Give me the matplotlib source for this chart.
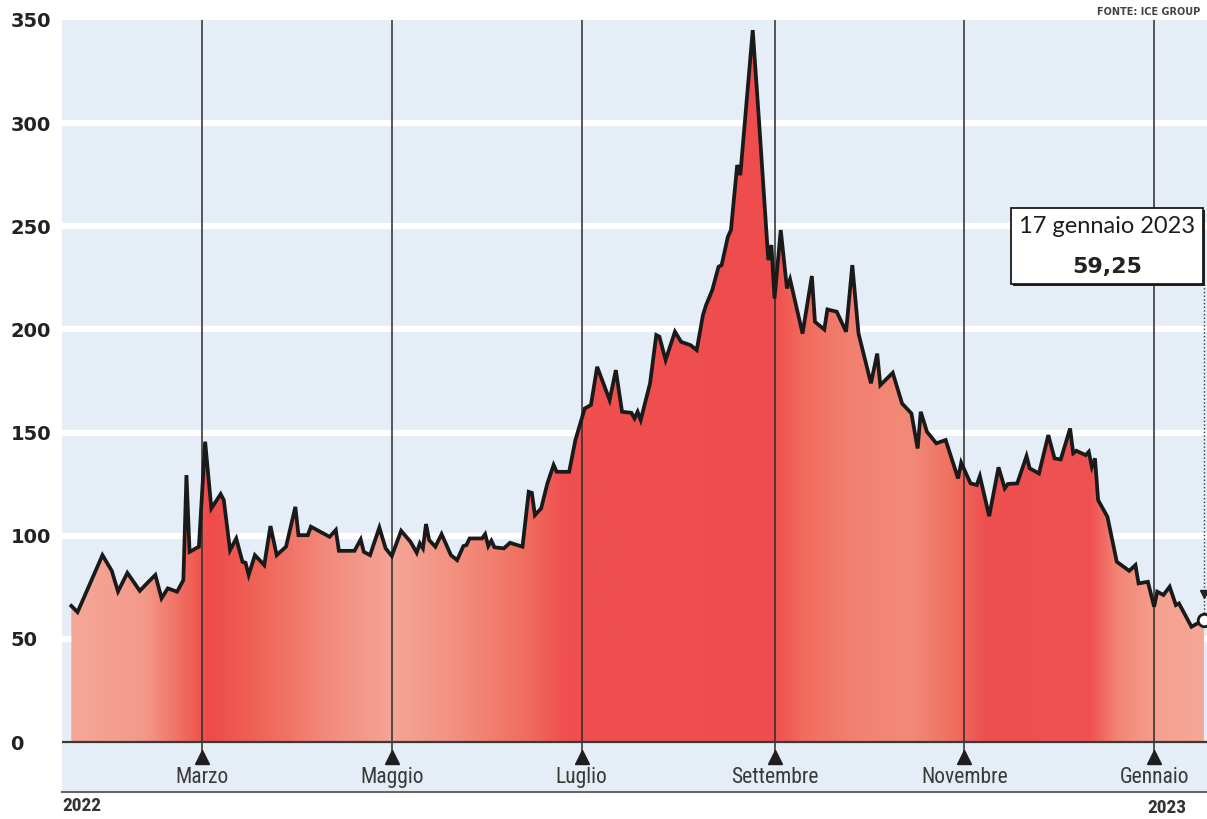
import matplotlib
matplotlib.use("Agg")
import matplotlib.pyplot as plt
import matplotlib.dates as mdates
import numpy as np
import pandas as pd
from matplotlib.colors import to_rgb
from matplotlib.patches import Rectangle

# TTF gas price (euro/MWh), daily closes
dates = [
    "2022-01-18", "2022-01-20", "2022-01-28", "2022-01-31", "2022-02-02", "2022-02-05",
    "2022-02-07", "2022-02-09", "2022-02-12", "2022-02-14", "2022-02-16", "2022-02-18",
    "2022-02-21", "2022-02-23", "2022-02-24", "2022-02-25", "2022-02-28", "2022-03-02",
    "2022-03-04", "2022-03-07", "2022-03-08", "2022-03-10", "2022-03-12", "2022-03-14",
    "2022-03-15", "2022-03-16", "2022-03-18", "2022-03-21", "2022-03-23", "2022-03-25",
    "2022-03-28", "2022-03-31", "2022-04-01", "2022-04-04", "2022-04-05", "2022-04-11",
    "2022-04-13", "2022-04-14", "2022-04-19", "2022-04-21", "2022-04-22", "2022-04-24",
    "2022-04-27", "2022-04-29", "2022-05-01", "2022-05-04", "2022-05-07", "2022-05-09",
    "2022-05-10", "2022-05-11", "2022-05-12", "2022-05-13", "2022-05-15", "2022-05-17",
    "2022-05-20", "2022-05-22", "2022-05-24", "2022-05-25", "2022-05-26", "2022-05-30",
    "2022-05-31", "2022-06-01", "2022-06-02", "2022-06-03", "2022-06-06", "2022-06-08",
    "2022-06-12", "2022-06-14", "2022-06-15", "2022-06-16", "2022-06-18", "2022-06-20",
    "2022-06-22", "2022-06-23", "2022-06-27", "2022-06-29", "2022-07-02", "2022-07-04",
    "2022-07-06", "2022-07-10", "2022-07-12", "2022-07-14", "2022-07-17", "2022-07-18",
    "2022-07-19", "2022-07-20", "2022-07-23", "2022-07-25", "2022-07-26", "2022-07-28",
    "2022-07-31", "2022-08-02", "2022-08-05", "2022-08-07", "2022-08-09", "2022-08-10",
    "2022-08-12", "2022-08-14", "2022-08-15", "2022-08-17", "2022-08-18", "2022-08-20",
    "2022-08-21", "2022-08-25", "2022-08-27", "2022-08-30", "2022-08-31", "2022-09-01",
    "2022-09-03", "2022-09-05", "2022-09-06", "2022-09-10", "2022-09-13", "2022-09-14",
    "2022-09-17", "2022-09-18", "2022-09-21", "2022-09-24", "2022-09-26", "2022-09-28",
    "2022-10-02", "2022-10-04", "2022-10-05", "2022-10-09", "2022-10-12", "2022-10-15",
    "2022-10-17", "2022-10-18", "2022-10-20", "2022-10-23", "2022-10-26", "2022-10-30",
    "2022-10-31", "2022-11-03", "2022-11-05", "2022-11-06", "2022-11-09", "2022-11-12",
    "2022-11-14", "2022-11-15", "2022-11-18", "2022-11-21", "2022-11-22", "2022-11-25",
    "2022-11-28", "2022-11-30", "2022-12-02", "2022-12-05", "2022-12-06", "2022-12-07",
    "2022-12-10", "2022-12-11", "2022-12-12", "2022-12-13", "2022-12-14", "2022-12-17",
    "2022-12-20", "2022-12-24", "2022-12-26", "2022-12-27", "2022-12-30", "2023-01-01",
    "2023-01-02", "2023-01-04", "2023-01-06", "2023-01-08", "2023-01-09", "2023-01-13",
    "2023-01-17",
]
prices = [
    66.0, 63.0, 90.6, 83.0, 73.0, 82.0,
    77.7, 73.3, 78.0, 81.0, 69.7, 74.5,
    72.9, 78.5, 129.4, 92.2, 94.7, 145.6,
    113.3, 120.2, 117.3, 93.0, 98.7, 87.4,
    86.9, 81.0, 90.6, 85.8, 104.7, 90.6,
    94.7, 114.0, 100.3, 100.3, 104.4, 99.5,
    102.8, 92.7, 92.7, 98.2, 92.2, 90.6,
    104.0, 93.9, 90.2, 102.4, 97.1, 91.8,
    96.3, 93.9, 105.7, 97.9, 94.7, 100.8,
    90.6, 88.2, 95.0, 95.5, 98.7, 98.7,
    100.8, 95.0, 97.6, 94.4, 93.9, 96.6,
    94.7, 121.3, 120.8, 110.0, 113.3, 125.4,
    134.3, 131.0, 131.0, 146.4, 161.7, 163.4,
    181.9, 165.8, 180.3, 160.1, 159.6, 156.9,
    160.1, 156.1, 173.9, 197.3, 196.5, 185.2,
    198.9, 194.0, 192.4, 190.0, 207.0, 211.8,
    219.1, 230.4, 231.2, 244.9, 248.2, 279.7,
    274.8, 345.1, 301.5, 233.6, 240.9, 215.0,
    248.2, 219.9, 224.3, 198.0, 225.9, 203.7,
    200.0, 209.7, 208.6, 198.9, 231.2, 198.0,
    173.9, 188.3, 173.0, 179.0, 164.1, 159.3,
    142.3, 160.1, 150.4, 144.8, 146.4, 127.8,
    135.4, 125.4, 124.6, 128.9, 109.5, 133.2,
    123.0, 125.1, 125.4, 138.6, 132.7, 130.2,
    148.8, 137.5, 137.0, 152.0, 140.0, 141.2,
    139.1, 140.7, 133.4, 137.5, 117.3, 109.2,
    87.4, 83.0, 85.8, 76.9, 77.7, 65.6,
    72.9, 71.3, 75.3, 66.4, 67.2, 55.9,
    59.25,
]

month_ticks = ["2022-03-01", "2022-05-01", "2022-07-01", "2022-09-01", "2022-11-01", "2023-01-01"]
month_labels = ["Marzo", "Maggio", "Luglio", "Settembre", "Novembre", "Gennaio"]
y_ticks = [0, 50, 100, 150, 200, 250, 300, 350]
last_label = "17 gennaio 2023"

# colour bands of the area fill, left to right
shade_dates = ["2022-01-15", "2022-02-10", "2022-02-26", "2022-03-03", "2022-03-20",
               "2022-04-10", "2022-05-01", "2022-05-20", "2022-06-12", "2022-06-25",
               "2022-08-31", "2022-09-10", "2022-09-25", "2022-10-15", "2022-10-28",
               "2022-11-08", "2022-12-12", "2022-12-20", "2023-01-02", "2023-01-18"]
shade_colors = ["#f6a89a", "#f39a8a", "#ef5f55", "#ee4a4a", "#f06558",
                "#f28a7c", "#f5a596", "#f39282", "#f07060", "#ef5050",
                "#ef4d4d", "#f26a5c", "#f38070", "#f28a78", "#f07060",
                "#ee5050", "#ef5252", "#f38474", "#f5a090", "#f6a898"]

narrow = ["Roboto Condensed", "Roboto", "DejaVu Sans"]

x = pd.to_datetime(dates)
xmin, xmax = pd.Timestamp("2022-01-15"), pd.Timestamp("2023-01-18")
ymin, ymax = -24.2, 350

fig = plt.figure(figsize=(12.07, 8.19), dpi=100)
ax = fig.add_axes([62 / 1207, 27 / 819, 1145 / 1207, 772 / 819])
ax.set_facecolor("#e5edf6")
ax.set_xlim(xmin, xmax)
ax.set_ylim(ymin, ymax)

for y in y_ticks[1:-1]:
    ax.axhline(y, color="white", lw=4.5, zorder=1)

# gradient area under the curve
fill = ax.fill_between(x, prices, 0, facecolor="none", edgecolor="none", zorder=2)
stop_x = mdates.date2num(pd.to_datetime(shade_dates))
stop_rgb = np.array([to_rgb(c) for c in shade_colors])
grid_x = np.linspace(mdates.date2num(xmin), mdates.date2num(xmax), 800)
row = np.stack([np.interp(grid_x, stop_x, stop_rgb[:, k]) for k in range(3)], axis=-1)
im = ax.imshow(row[np.newaxis, :, :], aspect="auto", zorder=2,
               extent=[grid_x[0], grid_x[-1], 0, ymax], interpolation="bilinear")
im.set_clip_path(fill.get_paths()[0], ax.transData)
ax.set_xlim(xmin, xmax)
ax.set_ylim(ymin, ymax)

# month markers
mt = pd.to_datetime(month_ticks)
ax.vlines(mt, -6, ymax, color="#2b2b2b", lw=1.1, zorder=3)
ax.plot(mt, [-7] * len(mt), "^", color="#1e1e1e", ms=10, zorder=4)
for d, lab in zip(mt, month_labels):
    ax.text(d, -17, lab, ha="center", va="center", fontsize=15.5, color="#3a3a3a",
            family=narrow)

ax.plot(x, prices, color="#1a1a1a", lw=2.7, zorder=5, solid_joinstyle="miter")
ax.axhline(0, color="#3a3a3a", lw=1.6, zorder=5)

# axis styling
for s in ["top", "left", "right"]:
    ax.spines[s].set_visible(False)
ax.spines["bottom"].set_color("#666666")
ax.spines["bottom"].set_linewidth(1.5)
ax.set_xticks([])
ax.set_yticks(y_ticks)
ax.set_yticklabels([str(v) for v in y_ticks], fontsize=14, fontweight="bold", color="#222222")
ax.tick_params(axis="y", length=0, pad=37)
for t in ax.get_yticklabels():
    t.set_horizontalalignment("left")

# last value callout
ax.plot([x[-1], x[-1]], [222, prices[-1]], ls=":", color="#333333", lw=1, zorder=5)
ax.plot(x[-1], 72, "v", color="#222222", ms=6, zorder=6)
ax.plot(x[-1], prices[-1], "o", mfc="white", mec="#1a1a1a", mew=2, ms=9, zorder=6)
bx0, bx1 = (1011 - 62) / 1145, (1203 - 62) / 1145
by0, by1 = (792 - 284) / 772, (792 - 208) / 772
ax.add_patch(Rectangle((bx0 + 0.002, by0 - 0.003), bx1 - bx0, by1 - by0, transform=ax.transAxes,
                       facecolor="#222222", edgecolor="none", zorder=7, clip_on=False))
ax.add_patch(Rectangle((bx0, by0), bx1 - bx0, by1 - by0, transform=ax.transAxes,
                       facecolor="white", edgecolor="#1a1a1a", lw=1.3, zorder=8, clip_on=False))
ax.text((bx0 + bx1) / 2, 0.733, last_label, transform=ax.transAxes, ha="center", va="center",
        fontsize=17, color="#1e1e1e", family=["Lato", "DejaVu Sans"], zorder=9)
ax.text((bx0 + bx1) / 2, 0.680, f"{prices[-1]:.2f}".replace(".", ","), transform=ax.transAxes,
        ha="center", va="center", fontsize=16, fontweight="bold", color="#222222", zorder=9)

fig.text(62 / 1207, 1 - 806 / 819, "2022", ha="left", va="center", fontsize=14,
         fontweight="bold", color="#333333", family=narrow)
fig.text(1186 / 1207, 1 - 808 / 819, "2023", ha="right", va="center", fontsize=14,
         fontweight="bold", color="#333333", family=narrow)
fig.text(1200 / 1207, 1 - 12 / 819, "FONTE: ICE GROUP", ha="right", va="center", fontsize=7,
         fontweight="bold", color="#444444")

fig.savefig("out.png", dpi=100)
